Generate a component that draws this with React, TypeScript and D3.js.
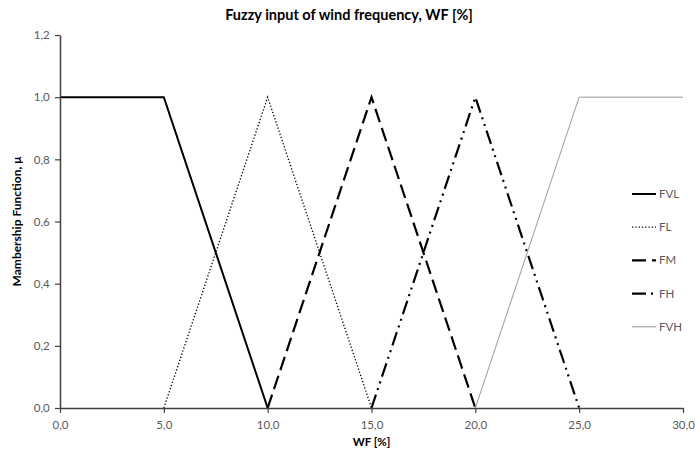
import { useEffect, useRef } from "react";
import * as d3 from "d3";

const width = 695;
const height = 455;
const margin = { top: 35, right: 12, bottom: 47, left: 60 };

const xTicks = [0, 5, 10, 15, 20, 25, 30];
const yTicks = [0, 0.2, 0.4, 0.6, 0.8, 1.0, 1.2];

const seriesNames = ["FVL", "FL", "FM", "FH", "FVH"];
const fvl = [[0, 1], [5, 1], [10, 0]];
const fl = [[5, 0], [10, 1], [15, 0]];
const fm = [[10, 0], [15, 1], [20, 0]];
const fh = [[15, 0], [20, 1], [25, 0]];
const fvh = [[20, 0], [25, 1], [30, 1]];
const seriesPoints = [fvl, fl, fm, fh, fvh];

const styles = [
  { stroke: "#000", width: 2, dash: "" },
  { stroke: "#000", width: 1.3, dash: "1.3 2" },
  { stroke: "#000", width: 2.2, dash: "14 6" },
  { stroke: "#000", width: 2.2, dash: "14 5 2 5 2 5" },
  { stroke: "#999", width: 1, dash: "" },
];

const font = "Lato, 'Open Sans', sans-serif";
const fmt = (v: number) => v.toFixed(1).replace(".", ",");

const App = () => {
  const ref = useRef<SVGSVGElement>(null);

  const x = d3.scaleLinear().domain([0, 30]).range([margin.left, width - margin.right]);
  const y = d3.scaleLinear().domain([0, 1.2]).range([height - margin.bottom, margin.top]);
  const bottom = height - margin.bottom;

  useEffect(() => {
    const svg = d3.select(ref.current);
    const xAxis = d3.axisBottom(x).tickValues(xTicks).tickFormat((d) => fmt(+d)).tickSize(5).tickSizeOuter(0);
    const yAxis = d3.axisLeft(y).tickValues(yTicks).tickFormat((d) => fmt(+d)).tickSize(5).tickSizeOuter(0);

    const gx = svg.select<SVGGElement>(".x-axis").call(xAxis);
    const gy = svg.select<SVGGElement>(".y-axis").call(yAxis);
    [gx, gy].forEach((g) => {
      g.select(".domain").attr("stroke", "#404040").attr("stroke-width", 1.5);
      g.selectAll(".tick line").attr("stroke", "#404040").attr("stroke-width", 1.2);
      g.selectAll("text")
        .attr("fill", "#595959")
        .attr("font-size", "11.5px")
        .attr("font-family", font);
    });
    gx.selectAll("text").attr("dy", "1.1em");
    gy.selectAll("text").attr("dx", "-0.2em");
  }, []);

  const line = d3
    .line<number[]>()
    .x((d) => x(d[0]))
    .y((d) => y(d[1]));

  return (
    <svg ref={ref} width={width} height={height} style={{ position: "absolute", left: 0, top: 0, background: "#fff" }}>
      <text x={349} y={20} textAnchor="middle" fontSize="14.5px" fontWeight="bold" fontFamily={font} fill="#000">
        Fuzzy input of wind frequency, WF [%]
      </text>
      <g className="series">
        {seriesPoints.map((pts, i) => (
          <path
            key={seriesNames[i]}
            d={line(pts) ?? ""}
            fill="none"
            stroke={styles[i].stroke}
            strokeWidth={styles[i].width}
            strokeDasharray={styles[i].dash}
          />
        ))}
      </g>
      <g className="x-axis" transform={`translate(0,${bottom})`}></g>
      <g className="y-axis" transform={`translate(${margin.left},0)`}></g>
      <text x={(margin.left + width - margin.right) / 2} y={446} textAnchor="middle" fontSize="11.5px" fontWeight="bold" fontFamily={font}>
        WF [%]
      </text>
      <text
        transform={`translate(21,${(margin.top + bottom) / 2}) rotate(-90)`}
        textAnchor="middle"
        fontSize="12px"
        fontWeight="bold"
        fontFamily={font}
      >
        Mambership Function, μ
      </text>
      <g className="legend" transform="translate(632,194)">
        {seriesNames.map((name, i) => (
          <g key={name} transform={`translate(0,${i * 33.2})`}>
            <line x1={0} x2={24} y1={0} y2={0} stroke={styles[i].stroke} strokeWidth={styles[i].width} strokeDasharray={styles[i].dash} />
            <text x={27} y={4} fontSize="11.5px" fill="#595959" fontFamily={font}>
              {name}
            </text>
          </g>
        ))}
      </g>
    </svg>
  );
};

export default App;
